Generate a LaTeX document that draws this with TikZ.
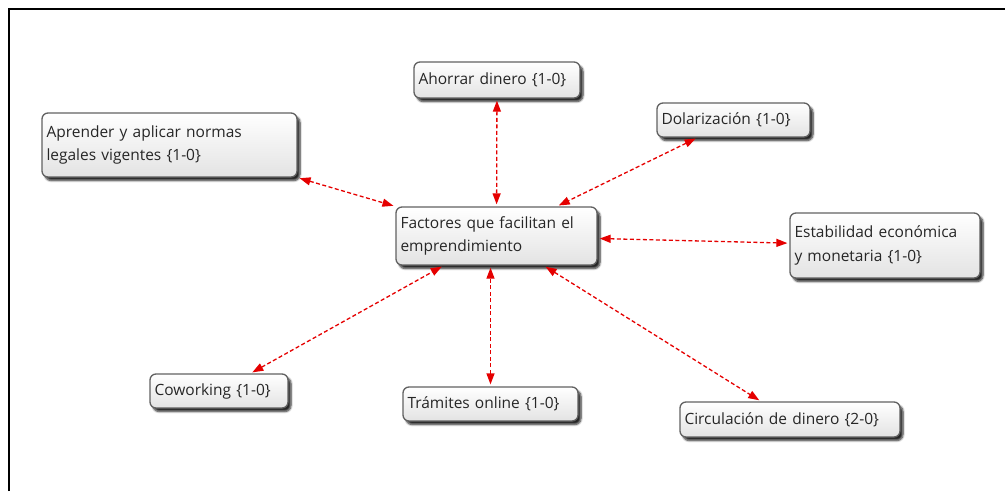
\documentclass[tikz,border=0pt]{standalone}
\usepackage{fontspec}
\setmainfont{Open Sans}
\usetikzlibrary{arrows.meta,shadows.blur}
\begin{document}
\begin{tikzpicture}[x=1pt,y=-1pt,
  box/.style={draw=black!62, line width=1.3pt, rounded corners=6pt,
    top color=white, bottom color=black!11, text=black!85,
    font=\fontsize{15.5}{23.5}\selectfont, align=left,
    inner xsep=4.5pt, inner ysep=0pt,
    blur shadow={shadow xshift=3pt, shadow yshift=-3.5pt,
      shadow blur radius=2pt, shadow blur steps=6, shadow opacity=85}},
  link/.style={red!90!black, line width=1.3pt, dash pattern=on 4pt off 2.5pt,
    {Triangle[length=11pt,width=8pt]}-{Triangle[length=11pt,width=8pt]},
    shorten <=2pt, shorten >=2pt}
]
\useasboundingbox (0,0) rectangle (1005,491);
% page frame: top and left rules
\draw[line width=2.6pt, black] (9,491) -- (9,9) -- (1005,9);

% concept boxes (centre, width, height)
\node[box, minimum height=64pt, text width=246pt] (apr) at (169.5,145)
  {Aprender y aplicar normas\\legales vigentes {\{}1-0{\}}};
\node[box, minimum height=36pt, text width=157pt] (aho) at (497,80)
  {Ahorrar dinero {\{}1-0{\}}};
\node[box, minimum height=34pt, text width=144pt] (dol) at (733.5,120)
  {Dolarización {\{}1-0{\}}};
\node[box, minimum height=58pt, text width=192pt] (fac) at (496.5,236)
  {Factores que facilitan el\\emprendimiento};
\node[box, minimum height=65pt, text width=181pt] (est) at (885,245.5)
  {Estabilidad económica\\y monetaria {\{}1-0{\}}};
\node[box, minimum height=34pt, text width=129pt] (cow) at (219,391)
  {Coworking {\{}1-0{\}}};
\node[box, minimum height=34pt, text width=166pt] (tra) at (490.5,404)
  {Trámites online {\{}1-0{\}}};
\node[box, minimum height=35pt, text width=211pt] (cir) at (790,419.5)
  {Circulación de dinero {\{}2-0{\}}};

% two-way dashed links to the central concept
\draw[link] (apr.south east) -- (fac);
\draw[link] (aho) -- (fac);
\draw[link] (dol) -- (fac);
\draw[link] (fac) -- (est);
\draw[link] (cow) -- (fac);
\draw[link] (tra.north) -- (tra.north |- fac.south);
\draw[link] (fac) -- (cir);
\end{tikzpicture}
\end{document}
